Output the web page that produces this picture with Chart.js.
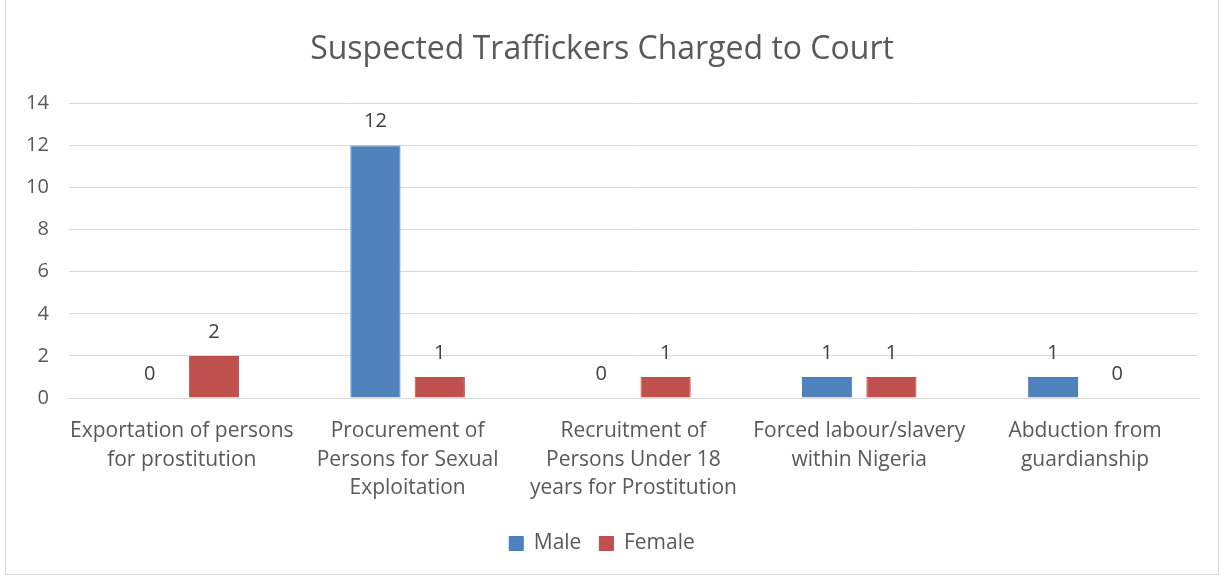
<!DOCTYPE html>
<html>
<head>
<meta charset="utf-8">
<script src="https://cdn.jsdelivr.net/npm/chart.js@4"></script>
<style>
  body { margin: 0; background: #fff; }
  #wrap { position: absolute; left: 5px; top: -1px; width: 1212px; height: 574px; border: 1px solid #d9d9d9; }
</style>
</head>
<body>
<div id="wrap"><canvas id="myChart" width="1212" height="574"></canvas></div>
<script>
var categories = [
    ['Exportation of persons', 'for prostitution'],
    ['Procurement of', 'Persons for Sexual', 'Exploitation'],
    ['Recruitment of', 'Persons Under 18', 'years for Prostitution'],
    ['Forced labour/slavery', 'within Nigeria'],
    ['Abduction from', 'guardianship']
];
var maleValues = [0, 12, 0, 1, 1];
var femaleValues = [2, 1, 1, 1, 0];
var yTicks = [0, 2, 4, 6, 8, 10, 12, 14];

var fontFamily = "'Open Sans', sans-serif";
var textColor = '#595959';

// value labels above each bar
var valueLabels = {
    id: 'valueLabels',
    afterDatasetsDraw: function (chart) {
        var c = chart.ctx;
        c.save();
        c.font = '20px ' + fontFamily;
        c.fillStyle = '#404040';
        c.textAlign = 'center';
        c.textBaseline = 'middle';
        chart.data.datasets.forEach(function (ds, i) {
            chart.getDatasetMeta(i).data.forEach(function (bar, j) {
                c.fillText(ds.data[j], bar.x, bar.y - 24);
            });
        });
        c.restore();
    }
};

var ctx = document.getElementById('myChart').getContext('2d');
var myChart = new Chart(ctx, {
    type: 'bar',
    data: {
        labels: categories,
        datasets: [{
            label: 'Male',
            data: maleValues,
            backgroundColor: '#4f81bd',
            borderColor: '#4a7ebb',
            borderWidth: 1
        }, {
            label: 'Female',
            data: femaleValues,
            backgroundColor: '#c0504d',
            borderColor: '#be4b48',
            borderWidth: 1
        }]
    },
    options: {
        responsive: false,
        animation: false,
        categoryPercentage: 0.57,
        barPercentage: 0.78,
        layout: { padding: { left: 0, right: 20, top: 10, bottom: 10 } },
        scales: {
            x: {
                grid: { display: false },
                border: { color: '#d9d9d9' },
                afterFit: function (axis) { axis.height += 2; },
                ticks: {
                    color: textColor,
                    padding: 10,
                    font: { family: fontFamily, size: 21, lineHeight: 1.38 },
                    maxRotation: 0,
                    autoSkip: false
                }
            },
            y: {
                min: 0,
                max: 14,
                afterBuildTicks: function (axis) {
                    axis.ticks = yTicks.map(function (v) { return { value: v }; });
                },
                grid: { color: '#d9d9d9', lineWidth: 1, drawTicks: false },
                border: { display: false },
                ticks: {
                    color: textColor,
                    padding: 20,
                    font: { family: fontFamily, size: 20 }
                }
            }
        },
        plugins: {
            title: {
                display: true,
                text: 'Suspected Traffickers Charged to Court',
                color: textColor,
                font: { family: fontFamily, size: 32, weight: 'normal' },
                padding: { top: 21, bottom: 34 }
            },
            legend: {
                position: 'bottom',
                labels: {
                    color: textColor,
                    font: { family: fontFamily, size: 21 },
                    boxWidth: 14,
                    boxHeight: 14,
                    padding: 18
                }
            },
            tooltip: { enabled: false }
        }
    },
    plugins: [valueLabels]
});
</script>
</body>
</html>
